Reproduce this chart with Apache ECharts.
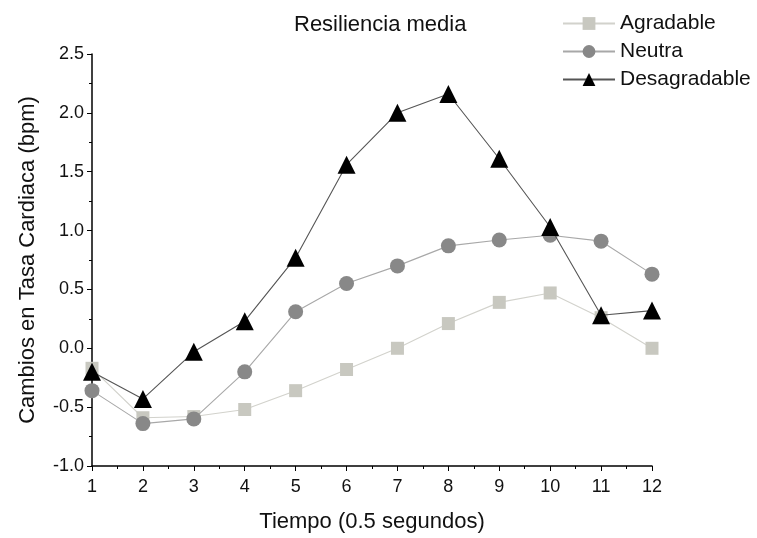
<!DOCTYPE html>
<html>
<head>
<meta charset="utf-8">
<script src="https://cdn.jsdelivr.net/npm/echarts@6/dist/echarts.min.js"></script>
<style>
  html, body { margin: 0; padding: 0; background: #fff; }
  #chart { width: 757px; height: 538px; }
</style>
</head>
<body>
<div id="chart"></div>
<script>
const tiempo = [1, 2, 3, 4, 5, 6, 7, 8, 9, 10, 11, 12];
const agradable = [-0.17, -0.59, -0.58, -0.52, -0.36, -0.18, 0.0, 0.21, 0.39, 0.47, 0.26, 0.0];
const neutra = [-0.36, -0.64, -0.60, -0.20, 0.31, 0.55, 0.70, 0.87, 0.92, 0.96, 0.91, 0.63];
const desagradable = [-0.20, -0.43, -0.03, 0.23, 0.77, 1.56, 2.0, 2.16, 1.61, 1.03, 0.28, 0.32];

const font = 'Liberation Sans, Arial, sans-serif';
const chart = echarts.init(document.getElementById('chart'));

const pairs = arr => tiempo.map((t, i) => [t, arr[i]]);

chart.setOption({
  backgroundColor: '#fff',
  animation: false,
  title: {
    text: 'Resiliencia media',
    left: 289,
    top: 9,
    textStyle: { fontFamily: font, fontSize: 22, fontWeight: 'normal', color: '#111' }
  },
  legend: {
    orient: 'vertical',
    left: 557,
    top: 8,
    itemWidth: 52,
    itemHeight: 16,
    itemGap: 7,
    textStyle: { fontFamily: font, fontSize: 21, color: '#111' },
    data: ['Agradable', 'Neutra', 'Desagradable']
  },
  grid: { left: 92, right: 105, top: 54, bottom: 72 },
  xAxis: {
    type: 'value',
    min: 1,
    max: 12,
    interval: 1,
    name: 'Tiempo (0.5 segundos)',
    nameLocation: 'middle',
    nameGap: 45,
    nameTextStyle: { fontFamily: font, fontSize: 22, color: '#111' },
    axisLine: { onZero: false, lineStyle: { color: '#000', width: 1.5 } },
    axisTick: { length: 5, lineStyle: { color: '#000' } },
    minorTick: { show: true, splitNumber: 2, length: 3, lineStyle: { color: '#000' } },
    axisLabel: { fontFamily: font, fontSize: 18, color: '#111', margin: 12 },
    splitLine: { show: false }
  },
  yAxis: {
    type: 'value',
    min: -1,
    max: 2.5,
    interval: 0.5,
    name: 'Cambios en Tasa Cardiaca (bpm)',
    nameLocation: 'middle',
    nameGap: 53,
    nameTextStyle: { fontFamily: font, fontSize: 22, color: '#111' },
    axisLine: { show: true, onZero: false, lineStyle: { color: '#000', width: 1.5 } },
    axisTick: { show: true, length: 5, lineStyle: { color: '#000' } },
    minorTick: { show: true, splitNumber: 2, length: 3, lineStyle: { color: '#000' } },
    axisLabel: {
      fontFamily: font, fontSize: 18, color: '#111', margin: 8,
      formatter: v => v.toFixed(1)
    },
    splitLine: { show: false }
  },
  series: [
    {
      name: 'Agradable',
      type: 'line',
      data: pairs(agradable),
      symbol: 'rect',
      symbolSize: 13,
      itemStyle: { color: '#c8c8c0' },
      lineStyle: { color: '#d2d2cc', width: 1.1 },
      z: 2
    },
    {
      name: 'Neutra',
      type: 'line',
      data: pairs(neutra),
      symbol: 'circle',
      symbolSize: 15,
      itemStyle: { color: '#888888' },
      lineStyle: { color: '#a8a8a8', width: 1.1 },
      z: 3
    },
    {
      name: 'Desagradable',
      type: 'line',
      data: pairs(desagradable),
      symbol: 'triangle',
      symbolSize: 18,
      itemStyle: { color: '#000' },
      lineStyle: { color: '#555', width: 1.1 },
      z: 4
    }
  ]
});
</script>
</body>
</html>
